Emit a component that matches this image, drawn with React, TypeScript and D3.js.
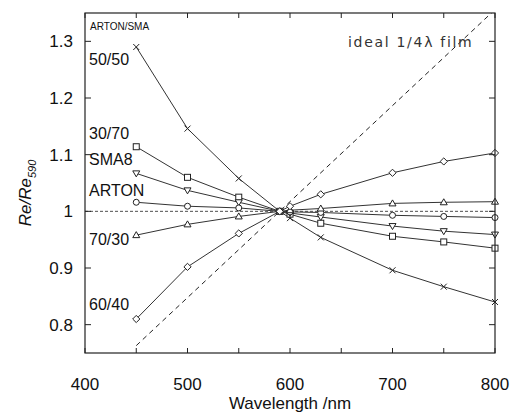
import React from "react";
import * as d3 from "d3";

const wavelengths = [450, 500, 550, 590, 600, 630, 700, 750, 800];

const s5050 = [1.29, 1.146, 1.058, 1.0, 0.988, 0.954, 0.896, 0.867, 0.84];
const s3070 = [1.114, 1.06, 1.025, 1.0, 0.995, 0.979, 0.956, 0.946, 0.935];
const sSMA8 = [1.067, 1.037, 1.016, 1.0, 0.997, 0.99, 0.974, 0.965, 0.959];
const sARTON = [1.016, 1.009, 1.006, 1.0, 0.999, 0.998, 0.993, 0.991, 0.989];
const s7030 = [0.958, 0.977, 0.991, 1.0, 1.002, 1.005, 1.014, 1.016, 1.017];
const s6040 = [0.81, 0.902, 0.961, 1.0, 1.009, 1.03, 1.068, 1.088, 1.103];

const idealX = [450, 800];
const idealY = [0.763, 1.356];

const xTicks = [400, 500, 600, 700, 800];
const xMinor = [450, 550, 650, 750];
const yTicks = [0.8, 0.9, 1, 1.1, 1.2, 1.3];

const series = [
  { name: "50/50", values: s5050, marker: "x" },
  { name: "30/70", values: s3070, marker: "square" },
  { name: "SMA8", values: sSMA8, marker: "down" },
  { name: "ARTON", values: sARTON, marker: "circle" },
  { name: "70/30", values: s7030, marker: "up" },
  { name: "60/40", values: s6040, marker: "diamond" },
];

const labels = [
  { text: "50/50", y: 65 },
  { text: "30/70", y: 139 },
  { text: "SMA8", y: 165 },
  { text: "ARTON", y: 196 },
  { text: "70/30", y: 245 },
  { text: "60/40", y: 310 },
];

const W = 514, H = 412;
const m = { left: 85, right: 495, top: 13, bottom: 353 };
const ink = "#222";

function Marker({ type, x, y }: { type: string; x: number; y: number }) {
  const r = 3;
  const p = { fill: "white", stroke: ink, strokeWidth: 1 };
  if (type === "x")
    return (
      <path d={`M${x - r},${y - r}L${x + r},${y + r}M${x - r},${y + r}L${x + r},${y - r}`} stroke={ink} strokeWidth={1} />
    );
  if (type === "square") return <rect x={x - r} y={y - r} width={2 * r} height={2 * r} {...p} />;
  if (type === "circle") return <circle cx={x} cy={y} r={r} {...p} />;
  if (type === "up") return <path d={`M${x},${y - r - 0.5}L${x + r + 0.5},${y + r - 0.5}L${x - r - 0.5},${y + r - 0.5}Z`} {...p} />;
  if (type === "down") return <path d={`M${x},${y + r + 0.5}L${x + r + 0.5},${y - r + 0.5}L${x - r - 0.5},${y - r + 0.5}Z`} {...p} />;
  return <path d={`M${x},${y - r - 0.6}L${x + r + 0.6},${y}L${x},${y + r + 0.6}L${x - r - 0.6},${y}Z`} {...p} />;
}

export default function App() {
  const x = d3.scaleLinear().domain([400, 800]).range([m.left, m.right]);
  const y = d3.scaleLinear().domain([0.75, 1.35]).range([m.bottom, m.top]);
  const line = d3
    .line<number>()
    .x((_, i) => x(wavelengths[i]))
    .y((d) => y(d));
  const idealLine = d3
    .line<number>()
    .x((_, i) => x(idealX[i]))
    .y((d) => y(d));
  const font = "'Liberation Sans', Arial, sans-serif";

  return (
    <svg width={W} height={H} style={{ position: "absolute", left: 0, top: 0, background: "white" }}>
      <defs>
        <clipPath id="plot">
          <rect x={m.left} y={m.top} width={m.right - m.left} height={m.bottom - m.top} />
        </clipPath>
      </defs>
      {/* reference line at 1 */}
      <line x1={m.left} x2={m.right} y1={y(1)} y2={y(1)} stroke={ink} strokeWidth={0.8} strokeDasharray="3,2" />
      {/* ideal film */}
      <path d={idealLine(idealY) || ""} fill="none" stroke={ink} strokeWidth={1} strokeDasharray="5,4" clipPath="url(#plot)" />

      {series.map((s) => (
        <path key={s.name} d={line(s.values) || ""} fill="none" stroke="#333" strokeWidth={1} />
      ))}
      {series.map((s) =>
        s.values.map((v, i) => <Marker key={s.name + i} type={s.marker} x={x(wavelengths[i])} y={y(v)} />)
      )}

      {/* frame */}
      <rect x={m.left} y={m.top} width={m.right - m.left} height={m.bottom - m.top} fill="none" stroke={ink} strokeWidth={1.2} />
      {[...xTicks, ...xMinor].map((t) => (
        <g key={"xt" + t}>
          <line x1={x(t)} x2={x(t)} y1={m.bottom} y2={m.bottom - 5} stroke={ink} />
          <line x1={x(t)} x2={x(t)} y1={m.top} y2={m.top + 5} stroke={ink} />
        </g>
      ))}
      {yTicks.map((t) => (
        <g key={"yt" + t}>
          <line x1={m.left} x2={m.left + 6} y1={y(t)} y2={y(t)} stroke={ink} />
          <line x1={m.right} x2={m.right - 6} y1={y(t)} y2={y(t)} stroke={ink} />
        </g>
      ))}
      {xTicks.map((t) => (
        <text key={"xl" + t} x={x(t)} y={390} textAnchor="middle" fontFamily={font} fontSize={17} fill="#111">
          {t}
        </text>
      ))}
      {yTicks.map((t) => (
        <text key={"yl" + t} x={73} y={y(t) + 6} textAnchor="end" fontFamily={font} fontSize={17} fill="#111">
          {String(t)}
        </text>
      ))}

      <text x={290} y={409} textAnchor="middle" fontFamily={font} fontSize={17} fill="#111">
        Wavelength /nm
      </text>
      <text transform="translate(31,193) rotate(-90)" textAnchor="middle" fontFamily={font} fontSize={17} fontStyle="italic" fill="#111">
        Re/Re<tspan fontSize={11} dy={5}>590</tspan>
      </text>

      <text x={90} y={30} fontFamily={font} fontSize={10} fill="#111">
        ARTON/SMA
      </text>
      {labels.map((l) => (
        <text key={l.text} x={89} y={l.y} fontFamily={font} fontSize={16} fill="#111">
          {l.text}
        </text>
      ))}
      <text x={348} y={47} fontFamily="'DejaVu Sans', sans-serif" fontSize={14} letterSpacing={1.7} fill="#333">
        ideal  1/4λ film
      </text>
    </svg>
  );
}
